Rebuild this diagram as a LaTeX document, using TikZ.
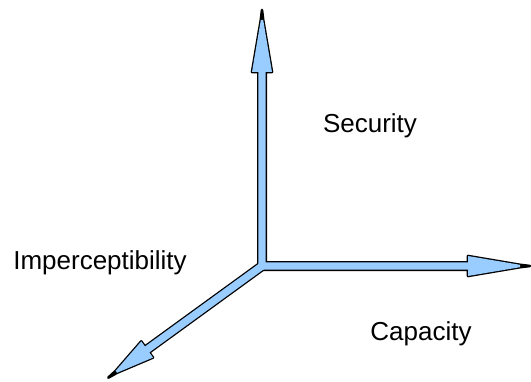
\documentclass[tikz,border=0pt]{standalone}
\usepackage{fontspec}
\setmainfont{Liberation Sans}
\usepackage{tikz}

\begin{document}
\begin{tikzpicture}[x=1pt,y=1pt]

\def\shaft{3.7}
\def\headw{10}
\def\tipw{1.2}

% Colours
\definecolor{axisblue}{RGB}{153,204,255}
\colorlet{edgecolor}{black}

% Styles
\tikzset{
  axis edge/.style={draw=edgecolor, line width=2.6pt, line join=round},
  axis fill/.style={fill=axisblue},
  axis label/.style={anchor=base, inner sep=0pt, font=\fontsize{26}{31}\selectfont}
}

\useasboundingbox (0,0) rectangle (531,381);

\coordinate (O) at (262,115);

% Axes: outlines first, then the blue body on top so the joins merge
\foreach \ang/\len/\head in {216/190/48, 0/268/62, 90/256/62}{
  \draw[axis edge, shift={(O)}, rotate=\ang]
    (0,-\shaft) -- ({\len-\head},-\shaft) -- ({\len-\head},-\headw)
    -- ({\len-10},-\tipw) -- (\len,0) -- ({\len-10},\tipw)
    -- ({\len-\head},\headw) -- ({\len-\head},\shaft) -- (0,\shaft) -- cycle;
}
\foreach \ang/\len/\head in {216/190/48, 0/268/62, 90/256/62}{
  \fill[axis fill, shift={(O)}, rotate=\ang]
    (0,-\shaft) -- ({\len-\head},-\shaft) -- ({\len-\head},-\headw)
    -- ({\len-10},-\tipw) -- ({\len-10},\tipw)
    -- ({\len-\head},\headw) -- ({\len-\head},\shaft) -- (0,\shaft) -- cycle;
}

% Labels
\node[axis label] (security) at (370,248) {Security};
\node[axis label] (imperceptibility) at (100,112) {Imperceptibility};
\node[axis label] (capacity) at (421,41) {Capacity};

\end{tikzpicture}
\end{document}
